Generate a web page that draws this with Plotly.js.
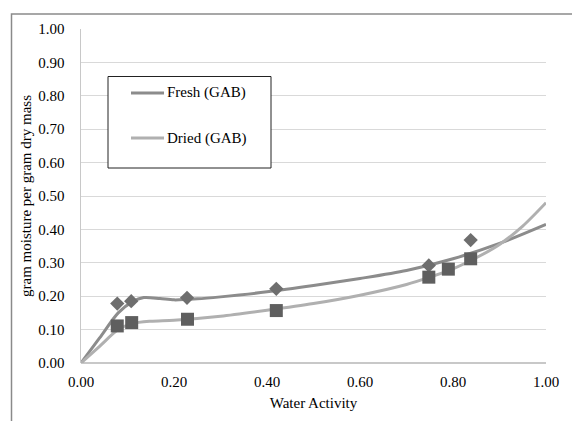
<!DOCTYPE html>
<html>
<head>
<meta charset="utf-8">
<script src="https://cdn.plot.ly/plotly-3.0.1.min.js"></script>
<style>
  html, body { margin: 0; padding: 0; background: #fff; }
  #chart { width: 572px; height: 421px; }
</style>
</head>
<body>
<div id="chart"></div>
<script>
// ---- Data ----
const seriesNames = ["Fresh (GAB)", "Dried (GAB)"];

// Measured points
const freshAw = [0.078, 0.108, 0.228, 0.42, 0.748, 0.838];
const freshM  = [0.178, 0.185, 0.195, 0.222, 0.292, 0.368];
const driedAw = [0.078, 0.109, 0.229, 0.42, 0.748, 0.79, 0.838];
const driedM  = [0.111, 0.121, 0.131, 0.157, 0.257, 0.281, 0.312];

// GAB model curves
const freshCurveAw = [0, 0.04, 0.08, 0.11, 0.135, 0.17, 0.2, 0.25, 0.3, 0.4, 0.5, 0.6, 0.7, 0.8, 0.9, 1.0];
const freshCurveM  = [0, 0.075, 0.15, 0.183, 0.196, 0.193, 0.189, 0.192, 0.198, 0.213, 0.232, 0.253, 0.277, 0.312, 0.358, 0.415];
const driedCurveAw = [0, 0.04, 0.08, 0.11, 0.15, 0.2, 0.3, 0.4, 0.5, 0.6, 0.7, 0.75, 0.8, 0.85, 0.9, 0.95, 1.0];
const driedCurveM  = [0, 0.05, 0.10, 0.118, 0.125, 0.128, 0.14, 0.158, 0.178, 0.203, 0.235, 0.257, 0.282, 0.315, 0.355, 0.41, 0.48];

const xTitle = "Water Activity";
const yTitle = "gram moisture per gram dry mass";

// ---- Styles ----
const FONT = "'Liberation Serif', 'Times New Roman', serif";
const freshLine = "#8c8c8c";
const driedLine = "#b0b0b0";

const traces = [
  { x: freshCurveAw, y: freshCurveM, mode: "lines", line: { color: freshLine, width: 3, shape: "spline", smoothing: 0.8 }, name: seriesNames[0], showlegend: false, hoverinfo: "skip" },
  { x: driedCurveAw, y: driedCurveM, mode: "lines", line: { color: driedLine, width: 3, shape: "spline", smoothing: 0.8 }, name: seriesNames[1], showlegend: false, hoverinfo: "skip" },
  { x: freshAw, y: freshM, mode: "markers", marker: { symbol: "diamond", size: 11, color: "#6e6e6e" }, showlegend: false },
  { x: driedAw, y: driedM, mode: "markers", marker: { symbol: "square", size: 13, color: "#5f5f5f" }, showlegend: false }
];

// Plot-area geometry helpers (paper coordinates)
const L = 81, R = 546, T = 29, B = 363, W = 572, H = 421;
const px = v => (v - L) / (R - L);
const py = v => (B - v) / (B - T);

const shapes = [
  // outer chart frame
  { type: "rect", xref: "paper", yref: "paper", x0: px(11.5), x1: px(580), y0: py(430), y1: py(14), line: { color: "#8a8a8a", width: 1.5 }, fillcolor: "rgba(0,0,0,0)", layer: "below" },
  // legend box
  { type: "rect", xref: "paper", yref: "paper", x0: px(108), x1: px(271), y0: py(168), y1: py(76.5), line: { color: "#222", width: 1 }, fillcolor: "#fff", layer: "above" },
  // legend line samples
  { type: "line", xref: "paper", yref: "paper", x0: px(131), x1: px(164), y0: py(93), y1: py(93), line: { color: freshLine, width: 3 } },
  { type: "line", xref: "paper", yref: "paper", x0: px(131), x1: px(164), y0: py(138), y1: py(138), line: { color: driedLine, width: 3 } }
];

const annotations = [
  { xref: "paper", yref: "paper", x: px(165), y: py(93), text: seriesNames[0], showarrow: false, xanchor: "left", yanchor: "middle", font: { family: FONT, size: 15, color: "#000" } },
  { xref: "paper", yref: "paper", x: px(165), y: py(138), text: seriesNames[1], showarrow: false, xanchor: "left", yanchor: "middle", font: { family: FONT, size: 15, color: "#000" } }
];

const layout = {
  width: W, height: H,
  margin: { l: L, r: W - R, t: T, b: H - B, pad: 0 },
  paper_bgcolor: "#fff", plot_bgcolor: "#fff",
  font: { family: FONT, size: 15, color: "#000" },
  showlegend: false,
  xaxis: {
    range: [0, 1], dtick: 0.2, tick0: 0, tickformat: ".2f",
    showgrid: false, zeroline: false, showline: false,
    ticks: "", ticklabelstandoff: 8,
    title: { text: xTitle, font: { family: FONT, size: 15 }, standoff: 8 },
    fixedrange: true
  },
  yaxis: {
    range: [0, 1.0], dtick: 0.1, tick0: 0, tickformat: ".2f",
    showgrid: true, gridcolor: "#d9d9d9", gridwidth: 1,
    zeroline: true, zerolinecolor: "#c8c8c8", zerolinewidth: 1.5,
    showline: true, linecolor: "#c8c8c8", linewidth: 1.5,
    ticks: "", ticklabelstandoff: 12,
    title: { text: yTitle, font: { family: FONT, size: 15 }, standoff: 3 },
    fixedrange: true
  },
  shapes: shapes,
  annotations: annotations
};

Plotly.newPlot("chart", traces, layout, { displayModeBar: false, staticPlot: true });
</script>
</body>
</html>
